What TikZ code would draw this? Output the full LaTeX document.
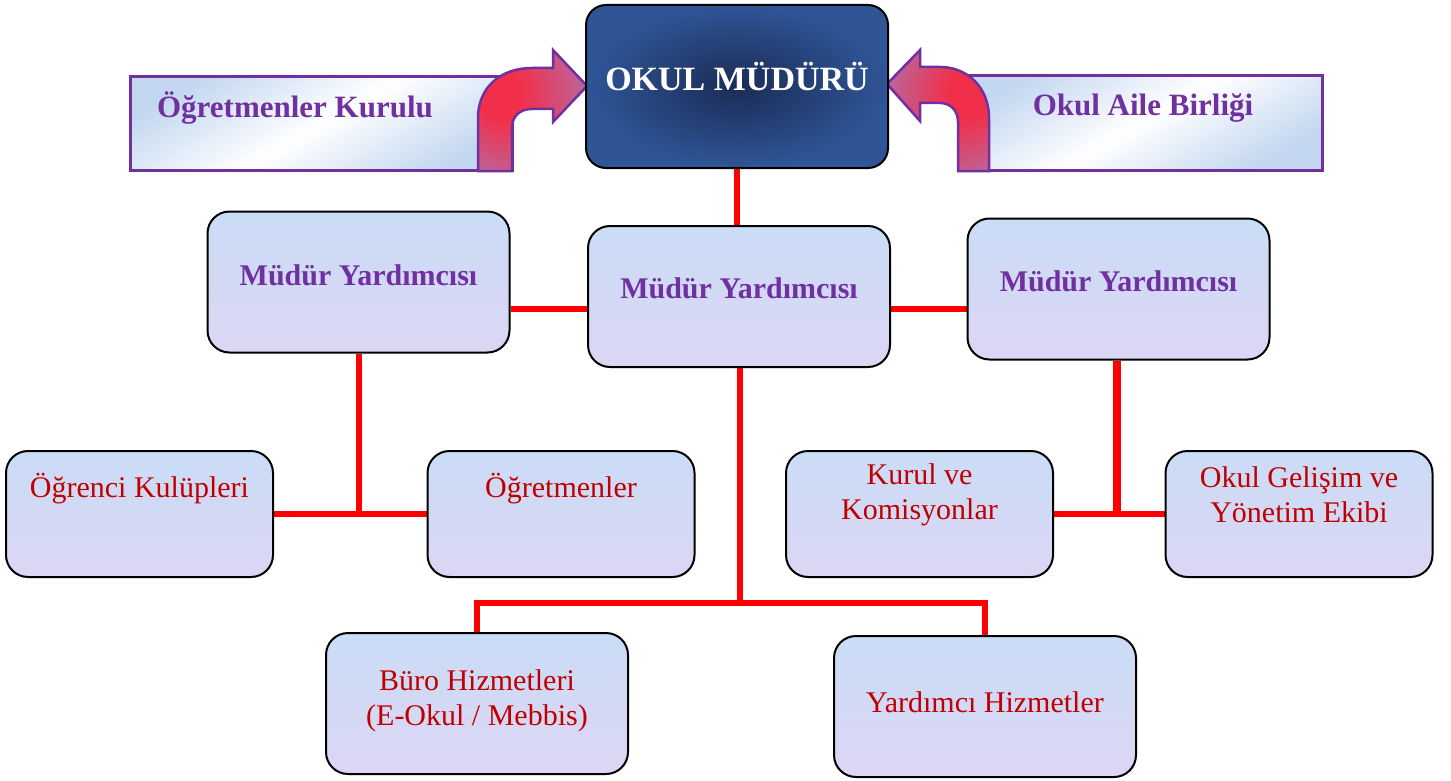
\documentclass[tikz,border=0pt]{standalone}
\usepackage{fontspec}
\setmainfont{Liberation Serif}
\usetikzlibrary{backgrounds,calc}
\pgfdeclarelayer{bottom}
\pgfsetlayers{bottom,background,main}
\definecolor{mypurple}{HTML}{7030A0}
\definecolor{myred}{HTML}{C00000}
\definecolor{lnred}{HTML}{FF0000}
\definecolor{boxA}{HTML}{CADCF6}
\definecolor{boxB}{HTML}{DCD6F4}
\definecolor{titleIn}{HTML}{1A2C55}
\definecolor{titleOut}{HTML}{2F5597}
\definecolor{bannerBlue}{HTML}{C3D7F0}
\definecolor{arrRed}{HTML}{F22F4A}
\definecolor{arrMauve}{HTML}{A67AB8}
\pgfdeclareradialshading{arrshL}{\pgfpoint{-18bp}{8bp}}{color(0bp)=(arrRed); color(10bp)=(arrRed); color(42bp)=(arrMauve); color(60bp)=(arrMauve)}
\pgfdeclareradialshading{arrshR}{\pgfpoint{18bp}{8bp}}{color(0bp)=(arrRed); color(10bp)=(arrRed); color(42bp)=(arrMauve); color(60bp)=(arrMauve)}
\begin{document}
\begin{tikzpicture}[x=1pt,y=-1pt,
  box/.style={draw=black, line width=2pt, rounded corners=22pt, top color=boxA, bottom color=boxB},
  bigbox/.style={box, minimum width=302pt, minimum height=141pt},
  smallbox/.style={box, minimum width=267pt, minimum height=126pt},
  ptxt/.style={text=mypurple, font=\fontsize{30}{35}\selectfont\bfseries, align=center},
  rtxt/.style={text=myred, font=\fontsize{30}{35}\selectfont, align=center},
  conn/.style={draw=lnred, line width=6pt},
  banner/.style={draw=mypurple, line width=3pt, top color=bannerBlue, bottom color=bannerBlue, middle color=white, shading angle=30},
  btxt/.style={text=mypurple, font=\fontsize{31}{35}\selectfont\bfseries},
  arr/.style={draw=mypurple, line width=2.5pt, line join=miter}
]
\useasboundingbox (0,0) rectangle (1451,781);
\begin{pgfonlayer}{bottom}
\fill[white] (0,0) rectangle (1451,781);
\end{pgfonlayer}

% banners
\node[banner, minimum width=382pt, minimum height=93pt,
  label={[btxt, xshift=-26, yshift=15]center:Öğretmenler Kurulu}] (ok) at (321,123.5) {};
\node[banner, minimum width=364pt, minimum height=94pt,
  label={[btxt, xshift=3, yshift=15]center:Okul Aile Birliği}] (oab) at (1140,123) {};

% bent arrows
\path[arr, shading=arrshL]
  (478,171) -- (478,118) .. controls (478,88) and (500,68) .. (532,68) -- (553,68) -- (553,50) -- (587,86)
  -- (553,122) -- (553,109) -- (532,109) .. controls (520,109) and (512,116) .. (512,128) -- (512,171) -- cycle;
\path[arr, shading=arrshR]
  (989,171) -- (989,118) .. controls (989,88) and (968,67) .. (940,67) -- (920,67) -- (920,50) -- (887,84)
  -- (920,121) -- (920,103) -- (940,103) .. controls (950,103) and (958,110) .. (958,122) -- (958,171) -- cycle;

% title
\node[draw=black, line width=2pt, rounded corners=20pt, inner color=titleIn, outer color=titleOut,
  minimum width=302pt, minimum height=163pt,
  label={[text=white, font=\fontsize{34}{38}\selectfont\bfseries, yshift=10]center:OKUL MÜDÜRÜ}] (okul) at (737,86.5) {};

% middle row
\node[bigbox, label={[ptxt, yshift=7]center:Müdür Yardımcısı}] (myl) at (358.5,282) {};
\node[bigbox, label={[ptxt, yshift=8]center:Müdür Yardımcısı}] (myc) at (739,296.5) {};
\node[bigbox, label={[ptxt, yshift=8]center:Müdür Yardımcısı}] (myr) at (1118.5,289) {};

% lower row
\node[smallbox, label={[rtxt, yshift=25]center:Öğrenci Kulüpleri}] (okl) at (139.5,514) {};
\node[smallbox, label={[rtxt, yshift=25]center:Öğretmenler}] (ogt) at (561,514) {};
\node[smallbox, label={[rtxt, yshift=19]center:Kurul ve\\Komisyonlar}] (kur) at (919.5,514) {};
\node[smallbox, label={[rtxt, yshift=19]center:Okul Gelişim ve\\Yönetim Ekibi}] (gel) at (1299,514) {};

% bottom row
\node[bigbox, label={[rtxt, yshift=3]center:Büro Hizmetleri\\(E-Okul / Mebbis)}] (buro) at (477,703.5) {};
\node[bigbox, label={[rtxt, yshift=4]center:Yardımcı Hizmetler}] (yard) at (985,706.5) {};

% connectors
\coordinate (h1) at (0,309);
\coordinate (jl) at (358.5,514);
\coordinate (jr) at (1117,514);
\coordinate (jc) at (740,603);
\begin{pgfonlayer}{background}
\draw[conn] (okul.south) -- (okul.south |- myc.north);
\draw[conn] (myl.east |- h1) -- (myc.west |- h1);
\draw[conn] (myc.east |- h1) -- (myr.west |- h1);
\draw[conn] (myl.south) -- (jl);
\draw[conn] (okl.east |- jl) -- (ogt.west |- jl);
\draw[conn, line width=8pt] (myr.south -| jr) -- (jr);
\draw[conn] (kur.east |- jr) -- (gel.west |- jr);
\draw[conn] (myc.south -| jc) -- (jc);
\draw[conn] (buro.north) |- (jc) -| (yard.north);
\end{pgfonlayer}
\end{tikzpicture}
\end{document}
